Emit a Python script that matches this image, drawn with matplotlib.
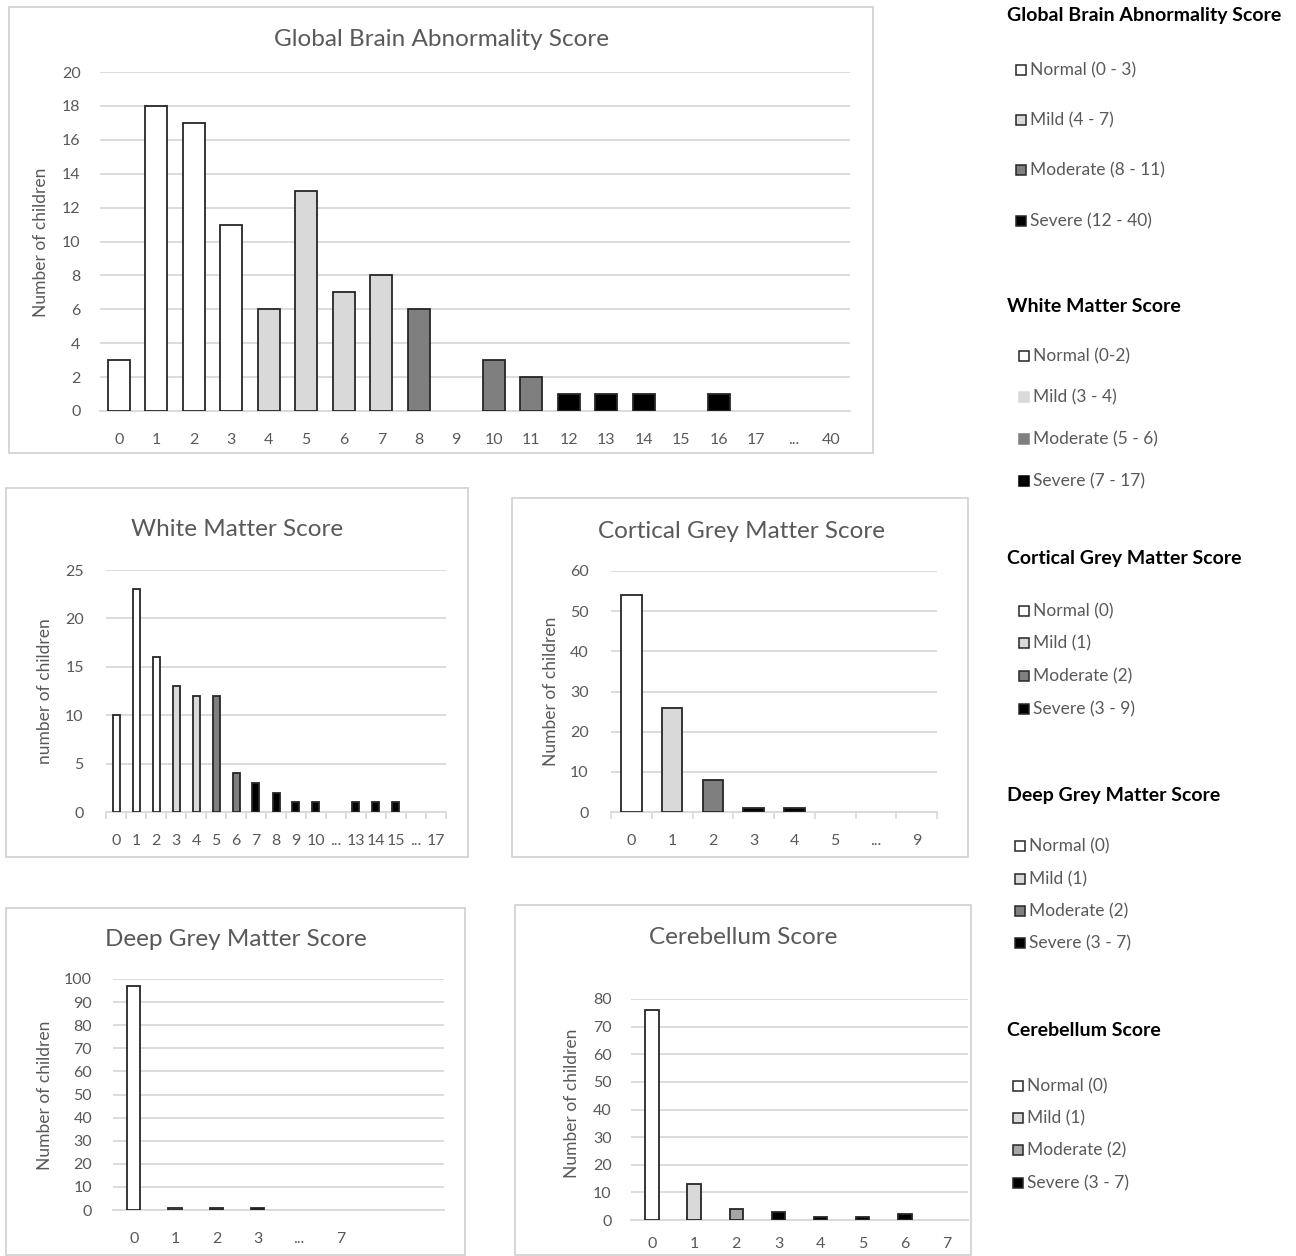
import matplotlib
matplotlib.use("Agg")
import matplotlib.pyplot as plt
from matplotlib.patches import Rectangle

plt.rcParams['font.family'] = ['Lato', 'DejaVu Sans']

W, H = 1296, 1256

# ---------------- data ----------------
global_labels = ["0", "1", "2", "3", "4", "5", "6", "7", "8", "9", "10", "11", "12",
                 "13", "14", "15", "16", "17", "...", "40"]
global_values = [3, 18, 17, 11, 6, 13, 7, 8, 6, 0, 3, 2, 1, 1, 1, 0, 1, 0, 0, 0]

wm_labels = ["0", "1", "2", "3", "4", "5", "6", "7", "8", "9", "10", "...", "13", "14", "15", "...", "17"]
wm_values = [10, 23, 16, 13, 12, 12, 4, 3, 2, 1, 1, 0, 1, 1, 1, 0, 0]

cgm_labels = ["0", "1", "2", "3", "4", "5", "...", "9"]
cgm_values = [54, 26, 8, 1, 1, 0, 0, 0]

dgm_labels = ["0", "1", "2", "3", "...", "7", "", ""]
dgm_values = [97, 1, 1, 1, 0, 0, 0, 0]

cb_labels = ["0", "1", "2", "3", "4", "5", "6", "7"]
cb_values = [76, 13, 4, 3, 1, 1, 2, 0]

# severity thresholds (lower bound of mild, moderate, severe)
global_thr = [4, 8, 12]
wm_thr = [3, 5, 7]
cgm_thr = [1, 2, 3]
dgm_thr = [1, 2, 3]
cb_thr = [1, 2, 3]

legend_sections = [
    ("Global Brain Abnormality Score",
     ["Normal (0 - 3)", "Mild (4 - 7)", "Moderate (8 - 11)", "Severe (12 - 40)"]),
    ("White Matter Score",
     ["Normal (0-2)", "Mild (3 - 4)", "Moderate (5 - 6)", "Severe (7 - 17)"]),
    ("Cortical Grey Matter Score",
     ["Normal (0)", "Mild (1)", "Moderate (2)", "Severe (3 - 9)"]),
    ("Deep Grey Matter Score",
     ["Normal (0)", "Mild (1)", "Moderate (2)", "Severe (3 - 7)"]),
    ("Cerebellum Score",
     ["Normal (0)", "Mild (1)", "Moderate (2)", "Severe (3 - 7)"]),
]

# ---------------- style ----------------
TXT = "#595959"
GRID = "#d9d9d9"
EDGE = "#262626"
PAL = ["#ffffff", "#d9d9d9", "#7f7f7f", "#000000"]
PAL_CB = ["#ffffff", "#d9d9d9", "#a6a6a6", "#000000"]
TICK_FS = 11.5
TITLE_FS = 17.5
YLAB_FS = 12.5

fig = plt.figure(figsize=(W / 100, H / 100), dpi=100)


def fx(x):
    return x / W


def fy(y):
    return 1 - y / H


def box(x0, y0, x1, y1):
    fig.patches.append(Rectangle((fx(x0), fy(y1)), fx(x1) - fx(x0), fy(y0) - fy(y1),
                                 transform=fig.transFigure, fill=False,
                                 edgecolor="#d0d0d0", linewidth=1.2))


def sev(label, thr, prev):
    try:
        v = float(label)
    except ValueError:
        return prev
    s = 0
    for t in thr:
        if v >= t:
            s += 1
    return s


def panel(rect, labels, values, thr, pal, ymax, ystep, width, title, tpos,
          ylabel, ylpos, ypad, xpad, ticks=False):
    x0, y0, x1, y1 = rect
    ax = fig.add_axes([fx(x0), fy(y1), fx(x1) - fx(x0), fy(y0) - fy(y1)])
    cols = []
    prev = 0
    for lab in labels:
        prev = sev(lab, thr, prev)
        cols.append(pal[prev])
    xs = list(range(len(labels)))
    lws = [1.3 if v > 0 else 0 for v in values]
    ax.bar(xs, values, width=width, color=cols, edgecolor=EDGE, linewidth=lws, zorder=3)
    ax.set_xlim(-0.5, len(labels) - 0.5)
    ax.set_ylim(0, ymax)
    ax.set_yticks(range(0, ymax + 1, ystep))
    ax.yaxis.grid(True, color=GRID, linewidth=1.3, zorder=0)
    ax.set_axisbelow(True)
    for s in ["top", "right", "left"]:
        ax.spines[s].set_visible(False)
    ax.spines["bottom"].set_color(GRID)
    ax.spines["bottom"].set_linewidth(1.3)
    ax.set_xticks(xs)
    ax.set_xticklabels(labels)
    ax.tick_params(axis="x", length=0, pad=xpad, labelsize=TICK_FS, labelcolor=TXT)
    ax.tick_params(axis="y", length=0, pad=ypad, labelsize=TICK_FS, labelcolor=TXT)
    if ticks:
        ax.set_xticks([i - 0.5 for i in range(len(labels) + 1)], minor=True)
        ax.tick_params(axis="x", which="minor", length=5, color=GRID, width=1.2)
    fig.text(fx(tpos[0]), fy(tpos[1]), title, ha="center", va="center",
             fontsize=TITLE_FS, color=TXT)
    fig.text(fx(ylpos[0]), fy(ylpos[1]), ylabel, ha="center", va="center",
             rotation=90, fontsize=YLAB_FS, color=TXT)
    return ax


# boxes
box(9, 7, 873, 453)
box(6, 488, 468, 857)
box(512, 498, 968, 857)
box(6, 908, 465, 1255)
box(515, 905, 971, 1255)

panel((100, 72, 850, 411), global_labels, global_values, global_thr, PAL, 20, 2, 0.58,
      "Global Brain Abnormality Score", (441, 39), "Number of children", (41, 242), 14, 16)
panel((106, 570, 446, 812), wm_labels, wm_values, wm_thr, PAL, 25, 5, 0.35,
      "White Matter Score", (237, 530), "number of children", (45, 691), 16, 16, ticks=True)
panel((611, 571, 937, 812), cgm_labels, cgm_values, cgm_thr, PAL, 60, 10, 0.5,
      "Cortical Grey Matter Score", (741, 531), "Number of children", (551, 691), 16, 16, ticks=True)
panel((113, 979, 444, 1210), dgm_labels, dgm_values, dgm_thr, PAL, 100, 10, 0.32,
      "Deep Grey Matter Score", (236, 940), "Number of children", (45, 1095), 15, 16)
panel((631, 999, 968, 1220), cb_labels, cb_values, cb_thr, PAL_CB, 80, 10, 0.32,
      "Cerebellum Score", (743, 937), "Number of children", (572, 1103), 14, 12)

# ---------------- legend text ----------------
head_y = [15, 307, 558, 795, 1031]
item_y = [[70, 120, 170, 221], [356, 397, 439, 481], [611, 643, 676, 709],
          [846, 879, 911, 943], [1086, 1118, 1150, 1183]]
sq_x = [1016, 1019, 1019, 1015, 1013]
sec_pal = [PAL, PAL, PAL, PAL, PAL_CB]
sec_edge = [True, False, True, True, True]
for k, (head, items) in enumerate(legend_sections):
    fig.text(fx(1007), fy(head_y[k]), head, ha="left", va="center",
             fontsize=14, fontweight="bold", color="#000000")
    for j, it in enumerate(items):
        yy = item_y[k][j]
        s = 10
        ec = EDGE if (sec_edge[k] or j == 0) else sec_pal[k][j]
        fig.patches.append(Rectangle((fx(sq_x[k]), fy(yy + s / 2)), s / W, s / H,
                                     transform=fig.transFigure, facecolor=sec_pal[k][j],
                                     edgecolor=ec, linewidth=1.1))
        fig.text(fx(sq_x[k] + 14), fy(yy), it, ha="left", va="center",
                 fontsize=12.5, color=TXT)

fig.savefig("out.png", dpi=100, facecolor="white")
